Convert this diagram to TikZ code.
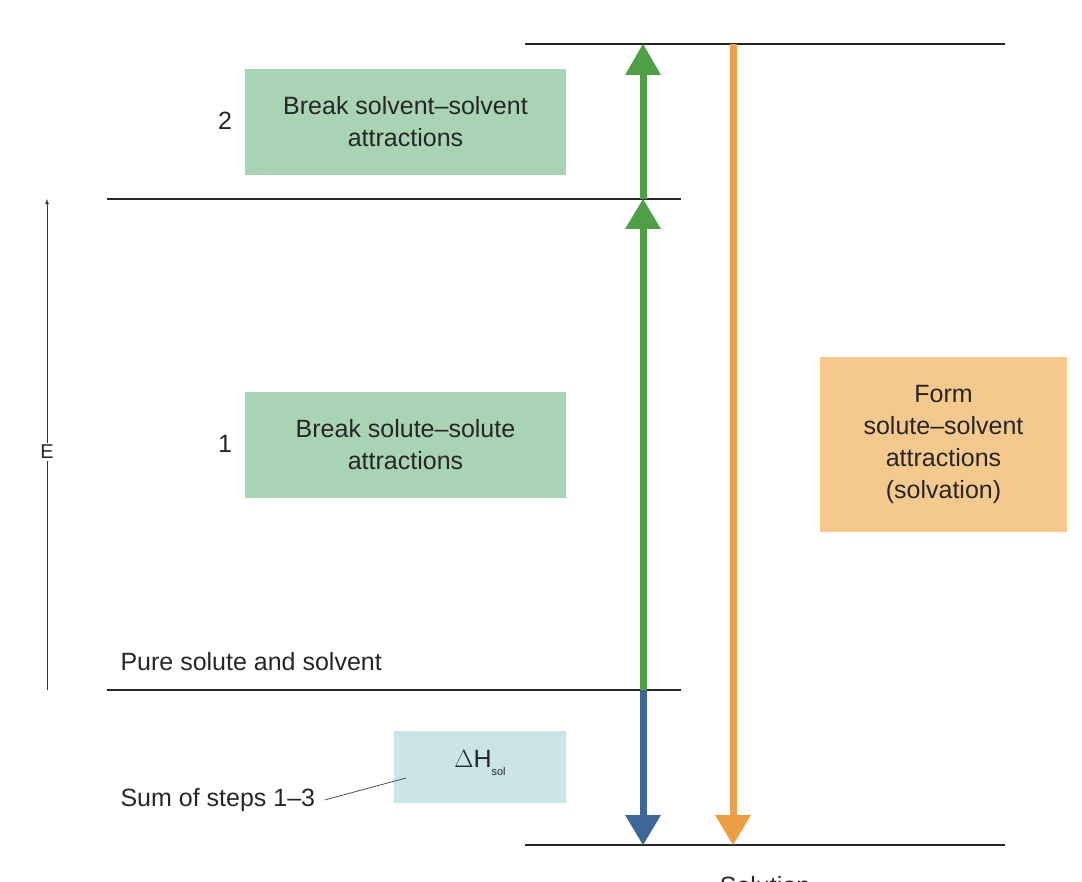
\documentclass[tikz,border=0pt]{standalone}
\usepackage{fontspec}
\setmainfont{Liberation Sans}
\begin{document}
\begin{tikzpicture}[x=1pt,y=-1pt,
  lvl/.style={line width=2.4pt,black!85},
  txt/.style={font=\fontsize{25}{32}\selectfont,text=black!85},
  gbox/.style={fill=gboxc,minimum width=321pt,minimum height=106pt,align=center,txt,inner sep=0pt},
]
\definecolor{gboxc}{HTML}{A9D4B3}
\definecolor{oboxc}{HTML}{F5C98E}
\definecolor{bboxc}{HTML}{C9E5E8}
\definecolor{garr}{HTML}{4E9F45}
\definecolor{barr}{HTML}{3E6696}
\definecolor{oarr}{HTML}{EC9E45}
\useasboundingbox (0,0) rectangle (1082,882);
\clip (0,0) rectangle (1082,882);
% levels
\coordinate (t1) at (525,44); \coordinate (t2) at (1005,44);
\coordinate (m1) at (107,199); \coordinate (m2) at (681,199);
\coordinate (p1) at (107,690); \coordinate (p2) at (681,690);
\coordinate (b1) at (525,845); \coordinate (b2) at (1005,845);
\draw[lvl] (t1)--(t2); \draw[lvl] (m1)--(m2); \draw[lvl] (p1)--(p2); \draw[lvl] (b1)--(b2);
% green arrows
\draw[garr,line width=7pt] (643,690)--(643,225);
\fill[garr] (643,199)--(625,229)--(661,229)--cycle;
\draw[garr,line width=7pt] (643,199)--(643,72);
\fill[garr] (643,44)--(625,75)--(661,75)--cycle;
% blue
\draw[barr,line width=7pt] (643,690)--(643,820);
\fill[barr] (643,845)--(625,815)--(661,815)--cycle;
% orange
\draw[oarr,line width=7pt] (733,44)--(733,820);
\fill[oarr] (733,845)--(715,815)--(751,815)--cycle;
% E axis
\draw[black!80,line width=0.8pt,-latex] (47,690)--(47,199);
\node[fill=white,txt,font=\fontsize{20}{22}\selectfont,inner sep=2pt] (E) at (47,452) {E};
% boxes
\node[gbox] (s2) at (405.5,122) {Break solvent–solvent\\attractions};
\node[txt] (n2) at (225,121) {2};
\node[gbox] (s1) at (405.5,445) {Break solute–solute\\attractions};
\node[txt] (n1) at (225,444) {1};
\node[fill=oboxc,minimum width=247pt,minimum height=175pt,align=center,txt,inner sep=0pt] (s3) at (943.5,444.5) {Form\\solute–solvent\\attractions\\(solvation)};
\node[txt] (n3) at (1088,440) {3};
\node[fill=bboxc,minimum width=172pt,minimum height=72pt,inner sep=0pt] (dh) at (480,767) {};
\node[txt] (dht) at (480,763) {$\Delta$H\raisebox{-8pt}{\fontsize{11}{11}\selectfont sol}};
\node[txt,anchor=west] (pure) at (117,662) {Pure solute and solvent};
\node[txt,anchor=west] (sum) at (117,800) {Sum of steps 1–3};
\coordinate (lead) at (406,778);
\draw[black!70,line width=0.8pt] ([xshift=6pt]sum.east) -- (lead);
\node[txt] (sol) at (765,886) {Solution};
\end{tikzpicture}
\end{document}
